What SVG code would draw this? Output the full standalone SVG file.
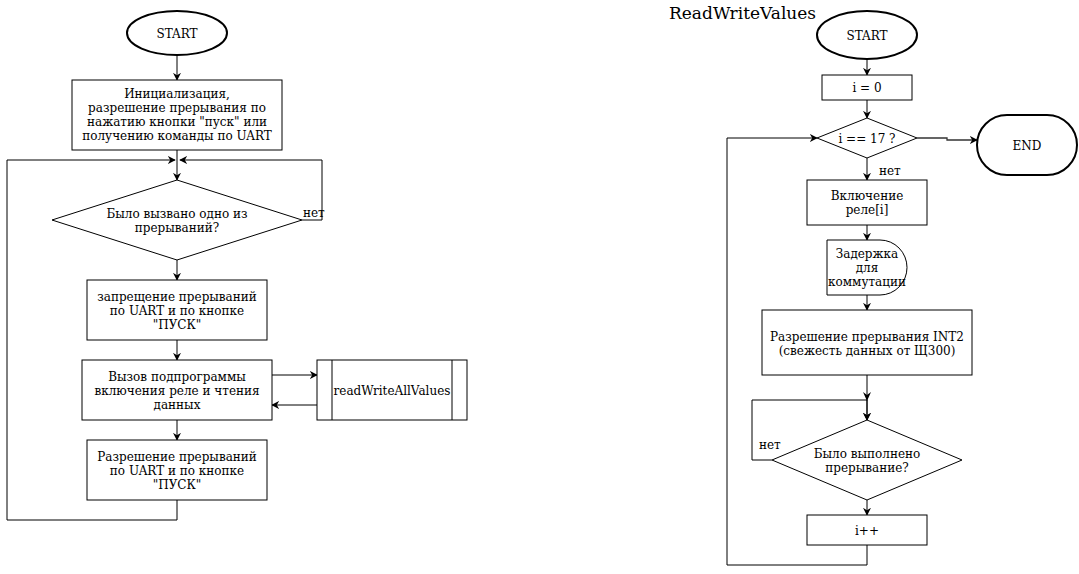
<svg xmlns="http://www.w3.org/2000/svg" width="1079" height="574" viewBox="0 0 1079 574">
<defs>
<marker id="arr" viewBox="0 0 10 10" refX="9" refY="5" markerWidth="8" markerHeight="8" markerUnits="userSpaceOnUse" orient="auto">
<path d="M0,0 L10,5 L0,10 L3,5 Z" fill="#000"/>
</marker>
<style>
.s{fill:#fff;stroke:#000;stroke-width:1}
.t{fill:#fff;stroke:#000;stroke-width:2}
.e{fill:none;stroke:#000;stroke-width:1}
text{font-family:"DejaVu Serif","Liberation Serif",serif;font-size:12px;fill:#000;text-anchor:middle}
.l{text-anchor:start}
</style>
</defs>
<rect width="1079" height="574" fill="#fff"/>
<g id="connectors">
<path class="e" d="M177,55 V80" marker-end="url(#arr)"/>
<path class="e" d="M177,150 V180" marker-end="url(#arr)"/>
<path class="e" d="M177,500 V520 H7 V160 H175" marker-end="url(#arr)"/>
<path class="e" d="M302,220 H322 V160 H180" marker-end="url(#arr)"/>
<path class="e" d="M177,260 V280" marker-end="url(#arr)"/>
<path class="e" d="M177,340 V360" marker-end="url(#arr)"/>
<path class="e" d="M177,420 V440" marker-end="url(#arr)"/>
<path class="e" d="M272,375 H317" marker-end="url(#arr)"/>
<path class="e" d="M317,405 H272" marker-end="url(#arr)"/>
<path class="e" d="M867,59 V75" marker-end="url(#arr)"/>
<path class="e" d="M867,100 V118" marker-end="url(#arr)"/>
<path class="e" d="M917,138 H947 V140 H977" style="stroke:#333;stroke-width:1.3" marker-end="url(#arr)"/>
<path class="e" d="M867,158 V180" marker-end="url(#arr)"/>
<path class="e" d="M867,225 V240" marker-end="url(#arr)"/>
<path class="e" d="M867,295 V310" marker-end="url(#arr)"/>
<path class="e" d="M867,375 V420" marker-end="url(#arr)"/>
<path class="e" d="M772,460 H752 V400 H867 V420" marker-end="url(#arr)"/>
<path d="M863,392 L867,401 L871,392 L867,395 Z" fill="#000"/>
<path class="e" d="M867,500 V515" marker-end="url(#arr)"/>
<path class="e" d="M867,545 V565 H727 V138 H817" marker-end="url(#arr)"/>
<text class="l" x="303" y="217">нет</text>
<text class="l" x="879" y="175">нет</text>
<text class="l" x="759" y="449">нет</text>
</g>
<g id="start1"><ellipse class="t" cx="177" cy="33" rx="50" ry="22"/><text x="177" y="38">START</text></g>
<g id="init"><rect class="s" x="72" y="80" width="210" height="70"/>
<text x="177" y="98">Инициализация,</text><text x="177" y="112">разрешение прерывания по</text><text x="177" y="126">нажатию кнопки "пуск" или</text><text x="177" y="140">получению команды по UART</text></g>
<g id="dec1"><path class="s" d="M177,180 L302,220 L177,260 L52,220 Z"/>
<text x="177" y="218">Было вызвано одно из</text><text x="177" y="232">прерываний?</text></g>
<g id="disable"><rect class="s" x="87" y="280" width="180" height="60"/>
<text x="177" y="301">запрещение прерываний</text><text x="177" y="315">по UART и по кнопке</text><text x="177" y="329">"ПУСК"</text></g>
<g id="call"><rect class="s" x="82" y="360" width="190" height="60"/>
<text x="177" y="381">Вызов подпрограммы</text><text x="177" y="395">включения реле и чтения</text><text x="177" y="409">данных</text></g>
<g id="sub"><rect class="s" x="317" y="360" width="150" height="60"/><path class="e" d="M332,360 V420 M452,360 V420"/>
<text x="392" y="395">readWriteAllValues</text></g>
<g id="enable"><rect class="s" x="87" y="440" width="180" height="60"/>
<text x="177" y="461">Разрешение прерываний</text><text x="177" y="475">по UART и по кнопке</text><text x="177" y="489">"ПУСК"</text></g>
<g id="title"><text class="l" x="669" y="19" style="font-size:17px">ReadWriteValues</text></g>
<g id="start2"><ellipse class="t" cx="867" cy="35" rx="50" ry="24"/><text x="867" y="40">START</text></g>
<g id="i0"><rect class="s" x="822" y="75" width="90" height="25"/><text x="867" y="92">i = 0</text></g>
<g id="dec2"><path class="s" d="M867,118 L917,138 L867,158 L817,138 Z"/><text x="867" y="143">i == 17 ?</text></g>
<g id="end"><rect class="t" x="977" y="115" width="100" height="60" rx="30" ry="30"/><text x="1027" y="150">END</text></g>
<g id="relay"><rect class="s" x="807" y="180" width="120" height="45"/><text x="867" y="200">Включение</text><text x="867" y="214">реле[i]</text></g>
<g id="delay"><path class="s" d="M827,240 H880 A27,27.5 0 0 1 880,295 H827 Z"/>
<text x="867" y="258">Задержка</text><text x="867" y="272">для</text><text x="867" y="286">коммутации</text></g>
<g id="int2"><rect class="s" x="762" y="310" width="210" height="65"/>
<text x="867" y="341">Разрешение прерывания INT2</text><text x="867" y="355">(свежесть данных от Щ300)</text></g>
<g id="dec3"><path class="s" d="M867,420 L962,460 L867,500 L772,460 Z"/>
<text x="867" y="458">Было выполнено</text><text x="867" y="472">прерывание?</text></g>
<g id="inc"><rect class="s" x="807" y="515" width="120" height="30"/><text x="867" y="535">i++</text></g>
</svg>
